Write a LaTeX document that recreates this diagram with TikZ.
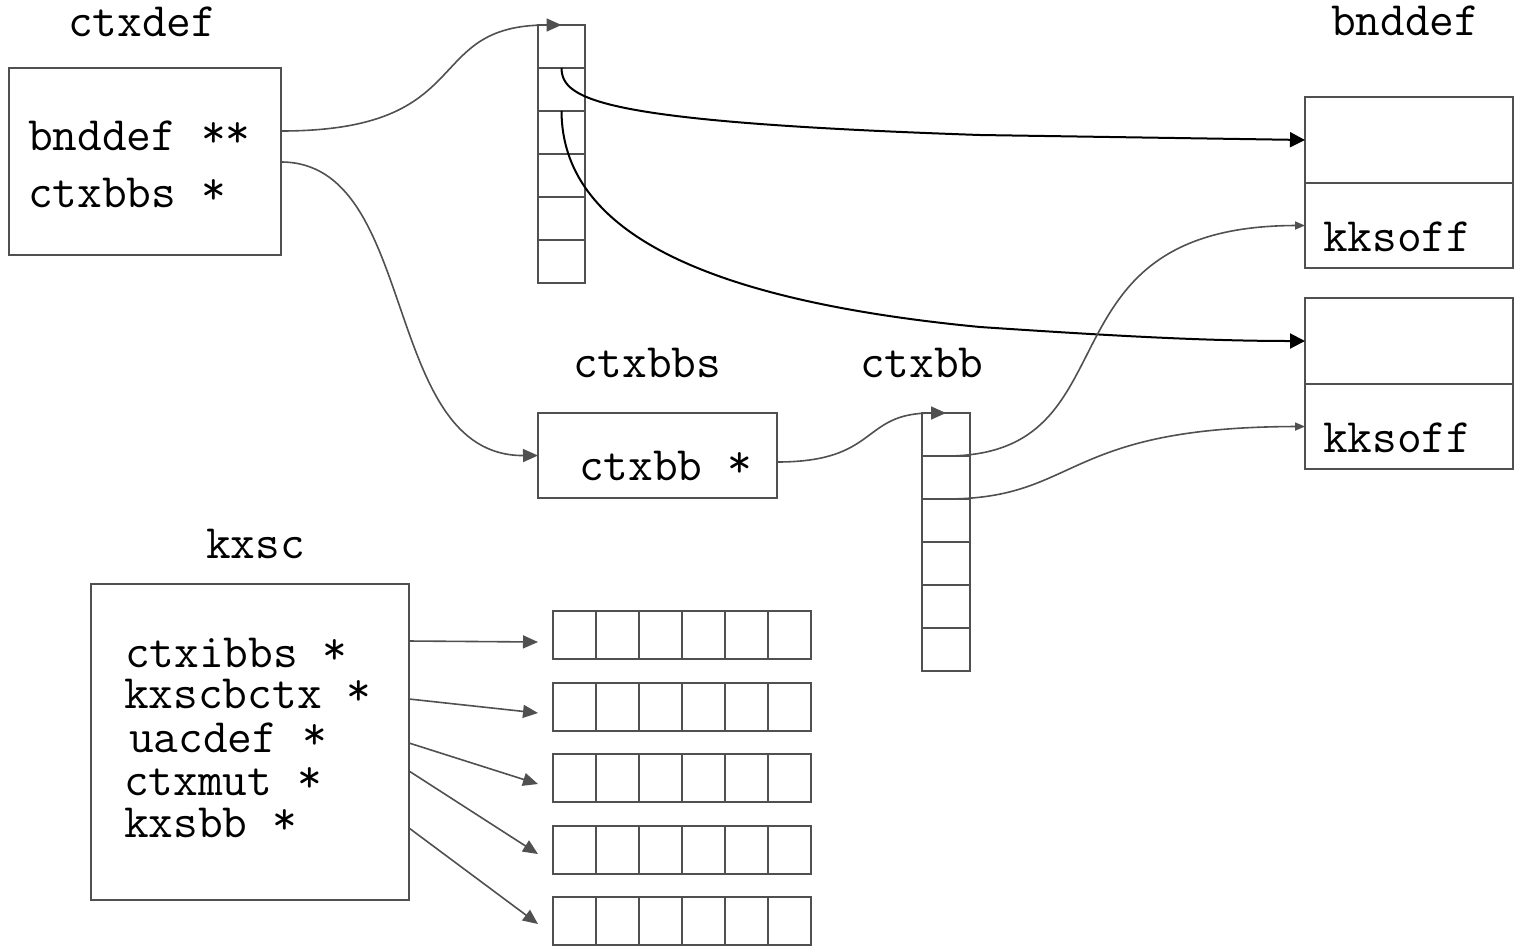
\documentclass[tikz,border=0pt]{standalone}
\usetikzlibrary{arrows.meta}
\definecolor{edge}{RGB}{80,80,80}
\newcommand\codefont{\fontsize{48}{50}\selectfont\ttfamily}
% raised asterisk, as a typewriter face sets it
\newcommand\hiast{\raisebox{3pt}{*}}
\begin{document}
\begin{tikzpicture}[x=1pt,y=-1pt,
  every node/.style={inner sep=0pt,outer sep=0pt},
  frame/.style={draw=edge,line width=1.6pt,rectangle,anchor=north west},
  vcell/.style={frame,minimum width=47pt,minimum height=43pt},
  wcell/.style={frame,minimum width=48pt,minimum height=43pt},
  hcell/.style={frame,minimum width=43pt,minimum height=48pt},
  txt/.style={font=\codefont,anchor=base west,text height=29pt,text depth=7pt},
  link/.style={draw=edge,line width=1.6pt,-{Triangle[length=15pt,width=13pt]}},
  thinlink/.style={draw=edge,line width=1.6pt,-{Triangle[length=10pt,width=8pt]}},
  ptr/.style={draw=black,line width=2pt,-{Triangle[length=15pt,width=15pt]}}]
\useasboundingbox (0,0) rectangle (1514,946);

% ---- ctxdef ----
\node[txt] (lctxdef) at (68,36) {ctxdef};
\node[frame,minimum width=272pt,minimum height=187pt] (ctxdef) at (9,68) {};
\node[txt] (fbnddef) at (28,150) {bnddef \hiast\hiast};
\node[txt] (fctxbbs) at (28,207) {ctxbbs \hiast};
\coordinate (pbnddef) at (281,131);
\coordinate (pctxbbs) at (281,162);

% ---- pointer array ----
\foreach \i in {0,...,5}
  \node[vcell] (a\i) at (538,25+43*\i) {};

% ---- ctxbbs ----
\node[txt] (lctxbbs) at (573,377) {ctxbbs};
\node[frame,minimum width=239pt,minimum height=85pt] (ctxbbs) at (538,413) {};
\node[txt] (fctxbb) at (579,480) {ctxbb \hiast};
\coordinate (pctxbb) at (777,462);

% ---- ctxbb array ----
\node[txt] (lctxbb) at (860,377) {ctxbb};
\foreach \i in {0,...,5}
  \node[wcell] (b\i) at (922,413+43*\i) {};

% ---- bnddef ----
\node[txt] (lbnddef) at (1331,35) {bnddef};
\node[frame,minimum width=208pt,minimum height=86pt] (bd1top) at (1305,97) {};
\node[frame,minimum width=208pt,minimum height=85pt] (bd1bot) at (1305,183) {};
\node[frame,minimum width=208pt,minimum height=86pt] (bd2top) at (1305,298) {};
\node[frame,minimum width=208pt,minimum height=85pt] (bd2bot) at (1305,384) {};
\node[txt] (kk1) at (1323,251) {kksoff};
\node[txt] (kk2) at (1323,452) {kksoff};

% ---- kxsc ----
\node[txt] (lkxsc) at (206,558) {kxsc};
\node[frame,minimum width=318pt,minimum height=316pt] (kxsc) at (91,584) {};
\node[txt] (k1) at (125,667) {ctxibbs \hiast};
\node[txt] (k2) at (124,708) {kxscbctx \hiast};
\node[txt] (k3) at (129,752) {uacdef \hiast};
\node[txt] (k4) at (124,795) {ctxmut \hiast};
\node[txt] (k5) at (124,837) {kxsbb \hiast};

% ---- row arrays ----
\foreach \r/\y in {1/611,2/683,3/754,4/826,5/897}
  \foreach \c in {0,...,5}
    \node[hcell] (h\r c\c) at (553+43*\c,\y) {};

% ---- kxsc ports and targets ----
\coordinate (s1) at (409,641);
\coordinate (s2) at (409,699);
\coordinate (s3) at (409,743);
\coordinate (s4) at (409,771);
\coordinate (s5) at (409,828);
\coordinate (e1) at (538,642);
\coordinate (e2) at (538,713);
\coordinate (e3) at (538,784);
\coordinate (e4) at (538,854);
\coordinate (e5) at (538,924);
\foreach \i in {1,...,5}
  \draw[link] (s\i) -- (e\i);

% ---- curved connectors ----
\draw[link] (pbnddef) .. controls (480,131) and (420,25) .. (a0.north);
\draw[link] (pctxbbs) .. controls (420,162) and (380,456) .. (ctxbbs.west);
\draw[link] (pctxbb) .. controls (880,462) and (860,413) .. (b0.north);

\draw[ptr] (a1.north) .. controls (562,100) and (600,122) .. (980,135) -- (bd1top.west);
\draw[ptr] (a2.north) .. controls (562,230) and (700,300) .. (980,327)
  .. controls (1100,335) and (1200,341) .. (bd2top.west);

\draw[thinlink] (b1.north) .. controls (1140,456) and (1030,226) .. (bd1bot.west);
\draw[thinlink] (b2.north) .. controls (1080,499) and (1060,427) .. (bd2bot.west);
\end{tikzpicture}
\end{document}
